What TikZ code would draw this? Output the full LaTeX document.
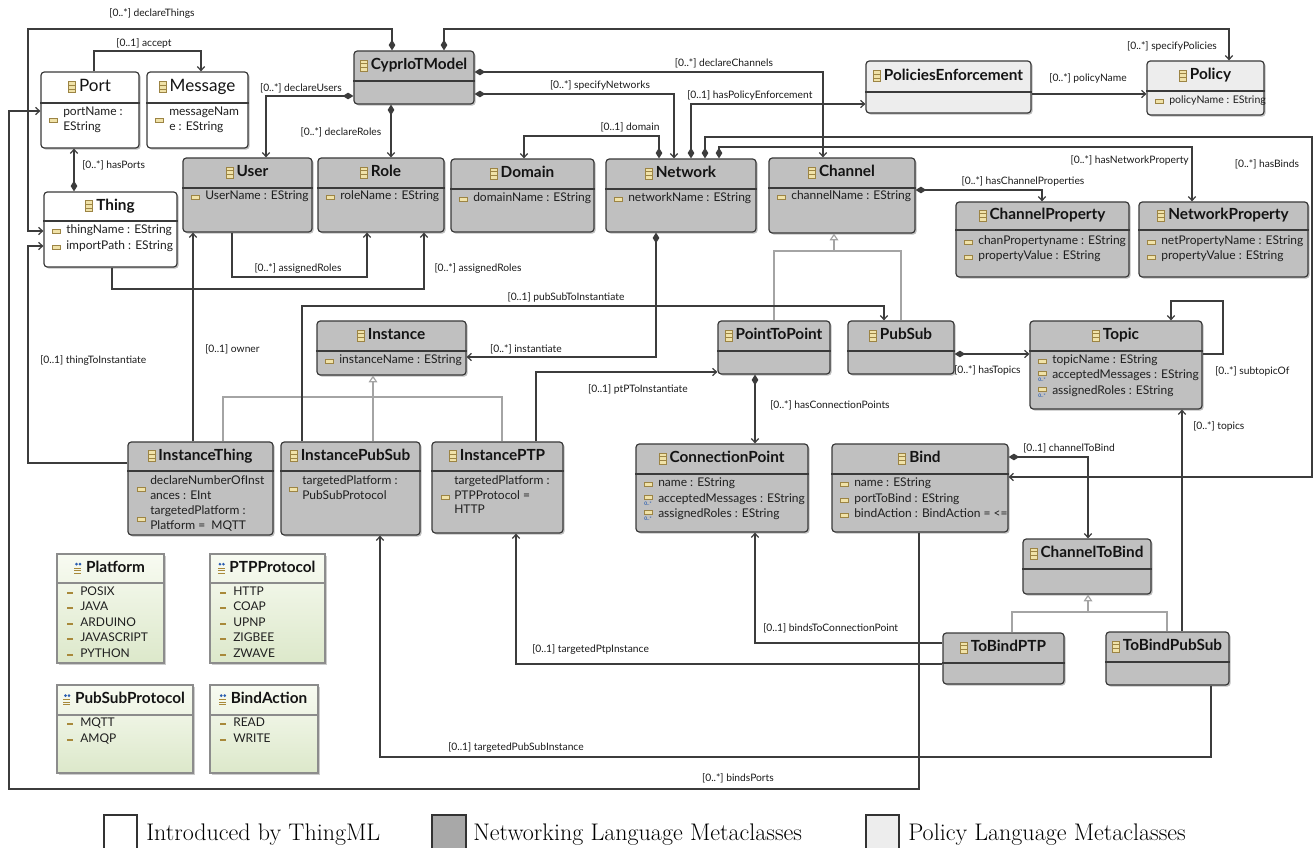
\documentclass[tikz,border=0pt]{standalone}
\usepackage{fontspec}
\newfontfamily\uml{Lato}
\usetikzlibrary{arrows.meta,fit,shadows,calc}
\definecolor{netfill}{HTML}{C0C0C0}
\definecolor{polfill}{HTML}{EDEDED}
\definecolor{enumtop}{HTML}{F8FBF2}
\definecolor{enumbot}{HTML}{DCE8CA}
\definecolor{bordc}{HTML}{3A3A3A}
\definecolor{linec}{HTML}{3C3C3C}
\definecolor{genc}{HTML}{A4A4A4}
\definecolor{icfill}{HTML}{F0E2A8}
\definecolor{icdraw}{HTML}{9C8444}
\definecolor{litc}{HTML}{A8893A}
\definecolor{manyc}{HTML}{2A5DB0}
\definecolor{leggray}{HTML}{A8A8A8}
\newcounter{umlc}
\newcommand\umlicon[1]{%
  \draw[clsic] ([xshift=-2.5pt,yshift=1pt]#1.mid west) ++(-7,-5.5) rectangle ++(7,11);
  \draw[clsicl] ([xshift=-2.5pt,yshift=1pt]#1.mid west) ++(-7,-2) -- ++(7,0) ++(-7,4) -- ++(7,0);}
\newcommand\umlenicon[1]{%
  \fill[manyc] ([xshift=-2.5pt,yshift=1pt]#1.mid west) ++(-6,-4) circle (1.1pt) ++(3.5,0) circle (1.1pt);
  \draw[litc,line width=1pt] ([xshift=-2.5pt,yshift=1pt]#1.mid west) ++(-8,0) -- ++(7,0) ++(-7,2.5) -- ++(7,0) ++(-7,2.5) -- ++(7,0);}
\newcommand\umlcls[8][netbox]{%
  \node[#1,fit={(#3,#4) (#5,#6)}] (#2) {};
  \draw[sepl] (#2.west |- 0,#7) -- (#2.east |- 0,#7);
  \node[ttl] (#2-t) at ({(#3+#5)/2+5},{(#4+#7)/2+1}) {#8};
  \umlicon{#2-t}}
\newcommand\umlenum[7]{%
  \node[enmbox,fit={(#2,#3) (#4,#5)}] (#1) {};
  \draw[esepl] (#1.west |- 0,#6) -- (#1.east |- 0,#6);
  \node[ttl] (#1-t) at ({(#2+#4)/2+5},{(#3+#6)/2+1}) {#7};
  \umlenicon{#1-t}}
\newcommand\umlatt[4][]{%
  \draw[aticon] (#2+8,#3-2) rectangle (#2+16,#3+2);
  \stepcounter{umlc}\node[att,#1] (a\arabic{umlc}) at (#2+22,#3) {#4};}
\newcommand\umlattm[3]{%
  \draw[aticon] (#1+8,#2-4.5) rectangle (#1+16,#2-0.5);
  \stepcounter{umlc}\node[manyt] (m\arabic{umlc}) at (#1+12,#2+2.6) {0..*};
  \stepcounter{umlc}\node[att] (a\arabic{umlc}) at (#1+22,#2) {#3};}
\newcommand\umltxt[3]{\stepcounter{umlc}\node[att] (a\arabic{umlc}) at (#1,#2) {#3};}
\newcommand\umllit[3]{%
  \draw[litc,line width=1.4pt] (#1+10,#2) -- (#1+16,#2);
  \stepcounter{umlc}\node[att] (a\arabic{umlc}) at (#1+23,#2) {#3};}
\newcommand\umllbl[4][mid]{\stepcounter{umlc}\node[lbl,anchor=#1] (l\arabic{umlc}) at (#2,#3) {#4};}
\begin{document}
\begin{tikzpicture}[x=0.75pt,y=-0.75pt,
  box/.style={draw=bordc,line width=0.9pt,rounded corners=2.5pt,inner sep=0pt,
    drop shadow={shadow xshift=1.2pt,shadow yshift=-1.2pt,opacity=.25,fill=black}},
  netbox/.style={box,fill=netfill},
  polbox/.style={box,fill=polfill},
  tmlbox/.style={box,fill=white},
  enmbox/.style={draw=black!45,line width=0.8pt,inner sep=0pt,top color=enumtop,bottom color=enumbot,
    drop shadow={shadow xshift=1.2pt,shadow yshift=-1.2pt,opacity=.2,fill=black}},
  sepl/.style={draw=bordc,line width=0.9pt},
  esepl/.style={draw=black!45,line width=0.8pt},
  ttl/.style={font=\uml\bfseries\fontsize{11.5}{13}\selectfont,inner sep=0pt,anchor=mid,text=black!92},
  att/.style={font=\uml\fontsize{9}{11}\selectfont,inner sep=0pt,anchor=mid west,text=black!88},
  manyt/.style={font=\uml\bfseries\fontsize{3.6}{4}\selectfont,inner sep=0pt,anchor=mid,text=manyc},
  lbl/.style={font=\uml\fontsize{7.7}{9}\selectfont,inner sep=0pt,text=black!90},
  clsic/.style={draw=icdraw,fill=icfill,line width=0.5pt},
  clsicl/.style={draw=icdraw,line width=0.4pt},
  aticon/.style={draw=icdraw,fill=icfill,line width=0.5pt},
  conn/.style={draw=linec,line width=0.9pt},
  assoc/.style={conn,-{Straight Barb[length=3pt,width=5.5pt]}},
  comp/.style={conn,{Diamond[length=8pt,width=5pt]}-{Straight Barb[length=3pt,width=5.5pt]}},
  gen/.style={draw=genc,line width=0.9pt},
  gentip/.style={gen,-{Triangle[open,length=5pt,width=6.5pt,fill=white]}},
  legbox/.style={draw=black!80,line width=0.8pt,inner sep=0pt},
  legtxt/.style={font=\fontsize{18}{20}\selectfont,inner sep=0pt,anchor=base west}
]
\useasboundingbox (0,0) rectangle (1314,848);

% ---------------- classes ----------------
\umlcls[tmlbox]{port}{41}{72}{139}{148}{103}{\fontsize{12.8}{14}\selectfont\mdseries Port}
\draw[aticon] (49,118) rectangle (57,122);
\umltxt{63}{113}{portName :}
\umltxt{63}{128}{EString}
\umlcls[tmlbox]{message}{147}{72}{248}{148}{103}{\fontsize{12.8}{14}\selectfont\mdseries Message}
\draw[aticon] (155,118) rectangle (163,122);
\umltxt{169}{113}{messageNam}
\umltxt{169}{128}{e : EString}
\umlcls[tmlbox]{thing}{44}{192}{177}{267}{221}{Thing}
\umlatt{44}{231}{thingName : EString}
\umlatt{44}{247}{importPath : EString}

\umlcls{cyp}{354}{51}{474}{104}{81}{CyprIoTModel}
\umlcls{user}{183}{158}{312}{232}{188}{User}
\umlatt{183}{197}{UserName : EString}
\umlcls{role}{318}{158}{444}{232}{188}{Role}
\umlatt{318}{197}{roleName : EString}
\umlcls{domain}{451}{159}{594}{232}{189}{Domain}
\umlatt{451}{199}{domainName : EString}
\umlcls{network}{606}{159}{756}{232}{189}{Network}
\umlatt{606}{199}{networkName : EString}
\umlcls{channel}{769}{158}{915}{233}{188}{Channel}
\umlatt{769}{197}{channelName : EString}
\umlcls{chprop}{956}{202}{1129}{277}{230}{ChannelProperty}
\umlatt{956}{242}{chanPropertyname : EString}
\umlatt{956}{257}{propertyValue : EString}
\umlcls{netprop}{1139}{202}{1308}{277}{230}{NetworkProperty}
\umlatt{1139}{242}{netPropertyName : EString}
\umlatt{1139}{257}{propertyValue : EString}
\umlcls[polbox]{polenf}{866}{61}{1031}{113}{92}{PoliciesEnforcement}
\umlcls[polbox]{policy}{1147}{61}{1264}{115}{91}{Policy}
\umlatt[font=\uml\fontsize{7.9}{9}\selectfont]{1147}{101}{policyName : EString}

\umlcls{instance}{317}{321}{466}{375}{351}{Instance}
\umlatt{317}{361}{instanceName : EString}
\umlcls{ithing}{128}{442}{273}{535}{471}{InstanceThing}
\draw[aticon] (137,487) rectangle (145,491);
\umltxt{150}{482}{declareNumberOfInst}
\umltxt{150}{497}{ances : EInt}
\draw[aticon] (137,517) rectangle (145,521);
\umltxt{150}{512}{targetedPlatform :}
\umltxt{150}{527}{Platform =\ \ MQTT}
\umlcls{ipubsub}{281}{442}{420}{535}{471}{InstancePubSub}
\draw[aticon] (289,487) rectangle (297,491);
\umltxt{302}{482}{targetedPlatform :}
\umltxt{302}{497}{PubSubProtocol}
\umlcls{iptp}{432}{442}{563}{533}{471}{InstancePTP}
\draw[aticon] (441,495) rectangle (449,499);
\umltxt{454}{482}{targetedPlatform :}
\umltxt{454}{497}{PTPProtocol =}
\umltxt{454}{511}{HTTP}

\umlcls{p2p}{718}{321}{830}{374}{351}{PointToPoint}
\umlcls{pubsub}{848}{321}{954}{374}{351}{PubSub}
\umlcls{topic}{1030}{321}{1202}{409}{351}{Topic}
\umlatt{1030}{361}{topicName : EString}
\umlattm{1030}{376}{acceptedMessages : EString}
\umlattm{1030}{392}{assignedRoles : EString}
\umlcls{cpoint}{636}{444}{808}{532}{474}{ConnectionPoint}
\umlatt{636}{484}{name : EString}
\umlattm{636}{500}{acceptedMessages : EString}
\umlattm{636}{515}{assignedRoles : EString}
\umlcls{bind}{832}{444}{1008}{532}{474}{Bind}
\umlatt{832}{484}{name : EString}
\umlatt{832}{500}{portToBind : EString}
\umlatt{832}{515}{bindAction : BindAction = <=}
\umlcls{ctb}{1023}{539}{1151}{594}{569}{ChannelToBind}
\umlcls{tbptp}{943}{633}{1064}{684}{663}{ToBindPTP}
\umlcls{tbps}{1106}{632}{1229}{685}{662}{ToBindPubSub}

% ---------------- enumerations ----------------
\umlenum{platform}{57}{554}{164}{663}{583}{Platform}
\umllit{57}{593}{POSIX}
\umllit{57}{608}{JAVA}
\umllit{57}{624}{ARDUINO}
\umllit{57}{639}{JAVASCRIPT}
\umllit{57}{655}{PYTHON}
\umlenum{ptpprot}{210}{554}{325}{663}{583}{PTPProtocol}
\umllit{210}{593}{HTTP}
\umllit{210}{608}{COAP}
\umllit{210}{624}{UPNP}
\umllit{210}{639}{ZIGBEE}
\umllit{210}{655}{ZWAVE}
\umlenum{psprot}{57}{685}{193}{773}{715}{PubSubProtocol}
\umllit{57}{724}{MQTT}
\umllit{57}{740}{AMQP}
\umlenum{bindact}{210}{685}{318}{773}{715}{BindAction}
\umllit{210}{724}{READ}
\umllit{210}{740}{WRITE}

% ---------------- generalizations ----------------
\draw[gen] (774,0 |- p2p.north) -- (774,251) -- (901,251) -- (901,0 |- pubsub.north);
\draw[gentip] (834,251) -- (834,0 |- channel.south);
\draw[gen] (223,0 |- ithing.north) -- (223,397) -- (502,397) -- (502,0 |- iptp.north);
\draw[gentip] (373,0 |- ipubsub.north) -- (373,0 |- instance.south);
\draw[gen] (1012,0 |- tbptp.north) -- (1012,612) -- (1167,612) -- (1167,0 |- tbps.north);
\draw[gentip] (1088,612) -- (1088,0 |- ctb.south);

% ---------------- associations ----------------
\draw[assoc] (94,0 |- port.north) -- (94,51) -- (201,51) -- (201,0 |- message.north);
\umllbl{144}{44}{[0..1] accept}
\draw[comp] (74,0 |- thing.north) -- (74,0 |- port.south);
\umllbl[mid west]{82}{166}{[0..*] hasPorts}
\draw[comp] (392,0 |- cyp.north) -- (392,29) -- (28,29) -- (28,231) -- (thing.west |- 0,231);
\umllbl{152}{14}{[0..*] declareThings}
\draw[assoc] (ithing.west |- 0,463) -- (28,463) -- (28,246) -- (thing.west |- 0,246);
\umllbl[mid west]{40}{361}{[0..1] thingToInstantiate}
\draw[assoc] (919,0 |- bind.south) -- (919,789) -- (9,789) -- (9,111) -- (port.west |- 0,111);
\umllbl{738}{779}{[0..*] bindsPorts}
\draw[comp] (cyp.west |- 0,96) -- (266,96) -- (266,0 |- user.north);
\umllbl{301}{89}{[0..*] declareUsers}
\draw[comp] (391,0 |- cyp.south) -- (391,0 |- role.north);
\umllbl{341}{133}{[0..*] declareRoles}
\draw[comp] (444,0 |- cyp.north) -- (444,29) -- (1229,29) -- (1229,0 |- policy.north);
\umllbl{1172}{47}{[0..*] specifyPolicies}
\draw[comp] (cyp.east |- 0,72) -- (823,72) -- (823,0 |- channel.north);
\umllbl{724}{64}{[0..*] declareChannels}
\draw[comp] (cyp.east |- 0,94) -- (674,94) -- (674,0 |- network.north);
\umllbl{600}{86}{[0..*] specifyNetworks}
\draw[comp] (691,0 |- network.north) -- (691,104) -- (polenf.west |- 0,104);
\umllbl[mid west]{687}{96}{[0..1] hasPolicyEnforcement}
\draw[assoc] (polenf.east |- 0,94) -- (policy.west |- 0,94);
\umllbl{1088}{79}{[0..*] policyName}
\draw[comp] (659,0 |- network.north) -- (659,136) -- (524,136) -- (524,0 |- domain.north);
\umllbl{630}{128}{[0..1] domain}
\draw[comp] (705,0 |- network.north) -- (705,137) -- (1312,137) -- (1312,477) -- (bind.east |- 0,477);
\umllbl{1267}{165}{[0..*] hasBinds}
\draw[comp] (719,0 |- network.north) -- (719,147) -- (1192,147) -- (1192,0 |- netprop.north);
\umllbl[mid east]{1189}{161}{[0..*] hasNetworkProperty}
\draw[comp] (channel.east |- 0,190) -- (1042,190) -- (1042,0 |- chprop.north);
\umllbl{1023}{182}{[0..*] hasChannelProperties}
\draw[comp] (656,0 |- network.south) -- (656,357) -- (instance.east |- 0,357);
\umllbl{526}{350}{[0..*] instantiate}
\draw[assoc] (193,0 |- ithing.north) -- (193,0 |- user.south);
\umllbl[mid west]{205}{350}{[0..1] owner}
\draw[assoc] (232,0 |- user.south) -- (232,277) -- (367,277) -- (367,0 |- role.south);
\umllbl{298}{269}{[0..*] assignedRoles}
\draw[assoc] (112,0 |- thing.south) -- (112,289) -- (424,289) -- (424,0 |- role.south);
\umllbl{478}{269}{[0..*] assignedRoles}
\draw[assoc] (302,0 |- ipubsub.north) -- (302,306) -- (884,306) -- (884,0 |- pubsub.north);
\umllbl{566}{298}{[0..1] pubSubToInstantiate}
\draw[assoc] (536,0 |- iptp.north) -- (536,372) -- (p2p.west |- 0,372);
\umllbl{638}{390}{[0..1] ptPToInstantiate}
\draw[comp] (755,0 |- p2p.south) -- (755,0 |- cpoint.north);
\umllbl[mid west]{770}{406}{[0..*] hasConnectionPoints}
\draw[comp] (pubsub.east |- 0,354) -- (topic.west |- 0,354);
\umllbl[mid west]{954}{371}{[0..*] hasTopics}
\draw[assoc] (topic.east |- 0,354) -- (1223,354) -- (1223,301) -- (1171,301) -- (1171,0 |- topic.north);
\umllbl[mid west]{1215}{372}{[0..*] subtopicOf}
\draw[assoc] (1182,0 |- tbps.north) -- (1182,0 |- topic.south);
\umllbl[mid west]{1193}{427}{[0..*] topics}
\draw[comp] (bind.east |- 0,457) -- (1088,457) -- (1088,0 |- ctb.north);
\umllbl[mid west]{1023}{449}{[0..1] channelToBind}
\draw[assoc] (tbptp.west |- 0,643) -- (755,643) -- (755,0 |- cpoint.south);
\umllbl[mid west]{763}{629}{[0..1] bindsToConnectionPoint}
\draw[assoc] (tbptp.west |- 0,664) -- (516,664) -- (516,0 |- iptp.south);
\umllbl[mid west]{532}{650}{[0..1] targetedPtpInstance}
\draw[assoc] (1211,0 |- tbps.south) -- (1211,757) -- (380,757) -- (380,0 |- ipubsub.south);
\umllbl[mid west]{448}{748}{[0..1] targetedPubSubInstance}

% ---------------- legend ----------------
\node[legbox,fill=white,fit={(104,815) (137,849)}] (lg1) {};
\node[legtxt] (lg1t) at (146,840) {Introduced by ThingML};
\node[legbox,fill=leggray,fit={(432,815) (466,849)}] (lg2) {};
\node[legtxt] (lg2t) at (473,840) {Networking Language Metaclasses};
\node[legbox,fill=polfill,fit={(866,815) (899,849)}] (lg3) {};
\node[legtxt] (lg3t) at (908,840) {Policy Language Metaclasses};
\end{tikzpicture}
\end{document}
